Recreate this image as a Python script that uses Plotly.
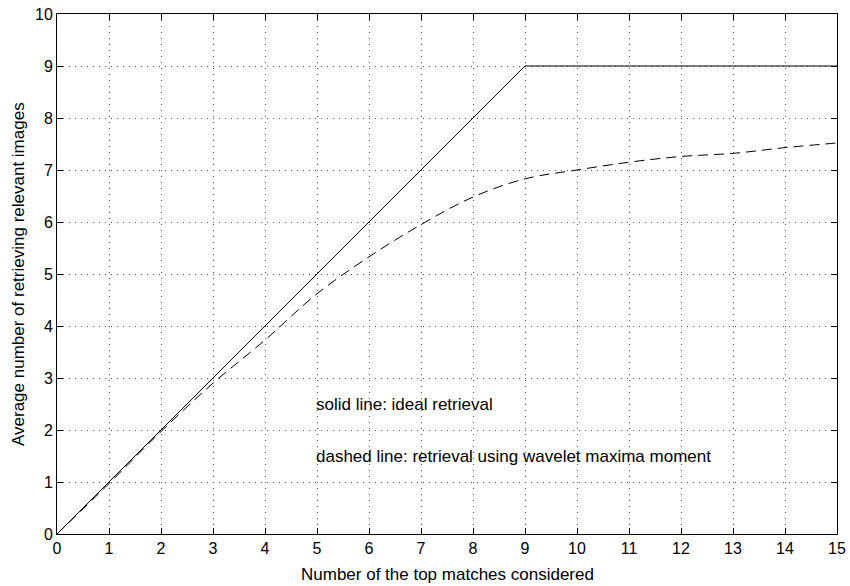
import plotly.graph_objects as go

x_vals = list(range(16))
ideal = [0, 1, 2, 3, 4, 5, 6, 7, 8, 9, 9, 9, 9, 9, 9, 9]
wavelet = [0, 0.97, 1.97, 2.9, 3.73, 4.62, 5.33, 5.95, 6.48, 6.83, 7.0, 7.15, 7.26, 7.32, 7.43, 7.52]
x_ticks = list(range(16))
y_ticks = list(range(11))
x_title = "Number of the top matches considered"
y_title = "Average number of retrieving relevant images"
notes = ["solid line: ideal retrieval",
         "dashed line: retrieval using wavelet maxima moment"]

font_family = "Liberation Sans, Arial, Helvetica, sans-serif"

fig = go.Figure()
fig.add_trace(go.Scatter(x=x_vals, y=ideal, mode="lines",
                         line=dict(color="black", width=1), showlegend=False))
fig.add_trace(go.Scatter(x=x_vals, y=wavelet, mode="lines", line_shape="spline",
                         line=dict(color="black", width=1, dash="10px,6px"), showlegend=False))

fig.add_annotation(x=5, y=2.5, text=notes[0], showarrow=False,
                   xanchor="left", yanchor="middle", xshift=-3,
                   font=dict(size=17, color="black", family=font_family))
fig.add_annotation(x=5, y=1.5, text=notes[1],
                   showarrow=False, xanchor="left", yanchor="middle", xshift=-3,
                   font=dict(size=17, color="black", family=font_family))

# axis titles as annotations for exact placement
fig.add_annotation(xref="paper", yref="paper", x=0.5, y=0, text=x_title,
                   showarrow=False, xanchor="center", yanchor="middle", yshift=-40,
                   font=dict(size=17, color="black", family=font_family))
fig.add_annotation(xref="paper", yref="paper", x=0, y=0.5, text=y_title,
                   showarrow=False, xanchor="center", yanchor="middle", xshift=-39,
                   textangle=-90,
                   font=dict(size=17, color="black", family=font_family))

axis_common = dict(showline=True, linecolor="black", linewidth=1, mirror="ticks",
                   ticks="inside", ticklen=6, tickcolor="black", tickwidth=1,
                   showgrid=True, gridcolor="#555555", griddash="1px,5px", gridwidth=1,
                   zeroline=False, automargin=False,
                   tickfont=dict(size=16, color="black", family=font_family))

fig.update_xaxes(range=[0, 15], tickvals=x_ticks, **axis_common)
fig.update_yaxes(range=[0, 10], tickvals=y_ticks, **axis_common)

fig.update_layout(width=850, height=586, margin=dict(l=57, r=13, t=14, b=52),
                  plot_bgcolor="white", paper_bgcolor="white",
                  font=dict(family=font_family, color="black"))

fig.write_html("out.html", config={"displayModeBar": False},
               post_script="document.body.style.margin='0';document.body.style.overflow='hidden';")
